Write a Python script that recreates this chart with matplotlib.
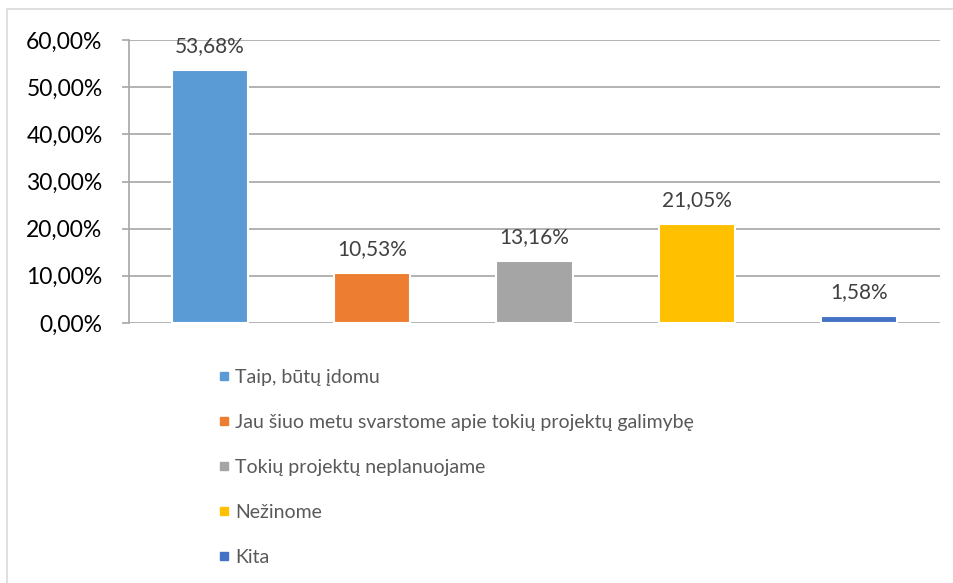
import matplotlib.pyplot as plt
from matplotlib.lines import Line2D
from matplotlib.patches import Rectangle

categories = ["Taip, būtų įdomu",
              "Jau šiuo metu svarstome apie tokių projektų galimybę",
              "Tokių projektų neplanuojame",
              "Nežinome",
              "Kita"]
values = [53.68, 10.53, 13.16, 21.05, 1.58]
colors = ["#5B9BD5", "#ED7D31", "#A5A5A5", "#FFC000", "#4472C4"]
yticks = [0, 10, 20, 30, 40, 50, 60]


def fmt(v):
    return f"{v:.2f}".replace(".", ",") + "%"


def draw_chart():
    plt.rcParams['font.family'] = ['Lato', 'DejaVu Sans']
    fig = plt.figure(figsize=(9.54, 5.83), dpi=100)
    W, H = 954, 583

    # light chart-area border (cropped at right/bottom)
    fig.patches.append(Rectangle((7 / W, -0.1), 1.2, 1 - 9 / H + 0.1,
                                 transform=fig.transFigure, fill=False,
                                 edgecolor="#D9D9D9", linewidth=1.2))

    ax = fig.add_axes([129 / W, 1 - 323 / H, (940 - 129) / W, (323 - 40) / H])
    x = range(len(values))
    ax.bar(x, values, width=0.47, color=colors, edgecolor="white",
           linewidth=1.5, zorder=3)

    for xi, v in zip(x, values):
        ax.annotate(fmt(v), (xi, v), xytext=(0, 10), textcoords="offset points",
                    ha="center", va="bottom", fontsize=15, color="#404040")

    ax.set_xlim(-0.5, len(values) - 0.5)
    ax.set_ylim(0, 60)
    ax.set_yticks(yticks)
    ax.set_yticklabels([fmt(t) for t in yticks], fontsize=16.5, color="black")
    ax.set_xticks([])
    ax.grid(axis="y", color="#A6A6A6", linewidth=1.2, zorder=0)
    ax.set_axisbelow(True)
    for s in ["top", "right", "bottom"]:
        ax.spines[s].set_visible(False)
    ax.spines["left"].set_color("#A6A6A6")
    ax.spines["left"].set_linewidth(1.2)
    ax.tick_params(axis="y", length=5, width=1.2, color="#A6A6A6", pad=14)

    handles = [Line2D([], [], marker="s", linestyle="none", markersize=6,
                      markerfacecolor=c, markeredgecolor=c) for c in colors]
    fig.legend(handles, categories, loc="upper left",
               bbox_to_anchor=(210 / W, 1 - 361 / H), frameon=False,
               fontsize=14, labelcolor="#595959", handlelength=0.6,
               handletextpad=0.3, labelspacing=1.44, borderaxespad=0)

    fig.savefig("out.png", dpi=100, facecolor="white")


if __name__ == "__main__":
    draw_chart()
